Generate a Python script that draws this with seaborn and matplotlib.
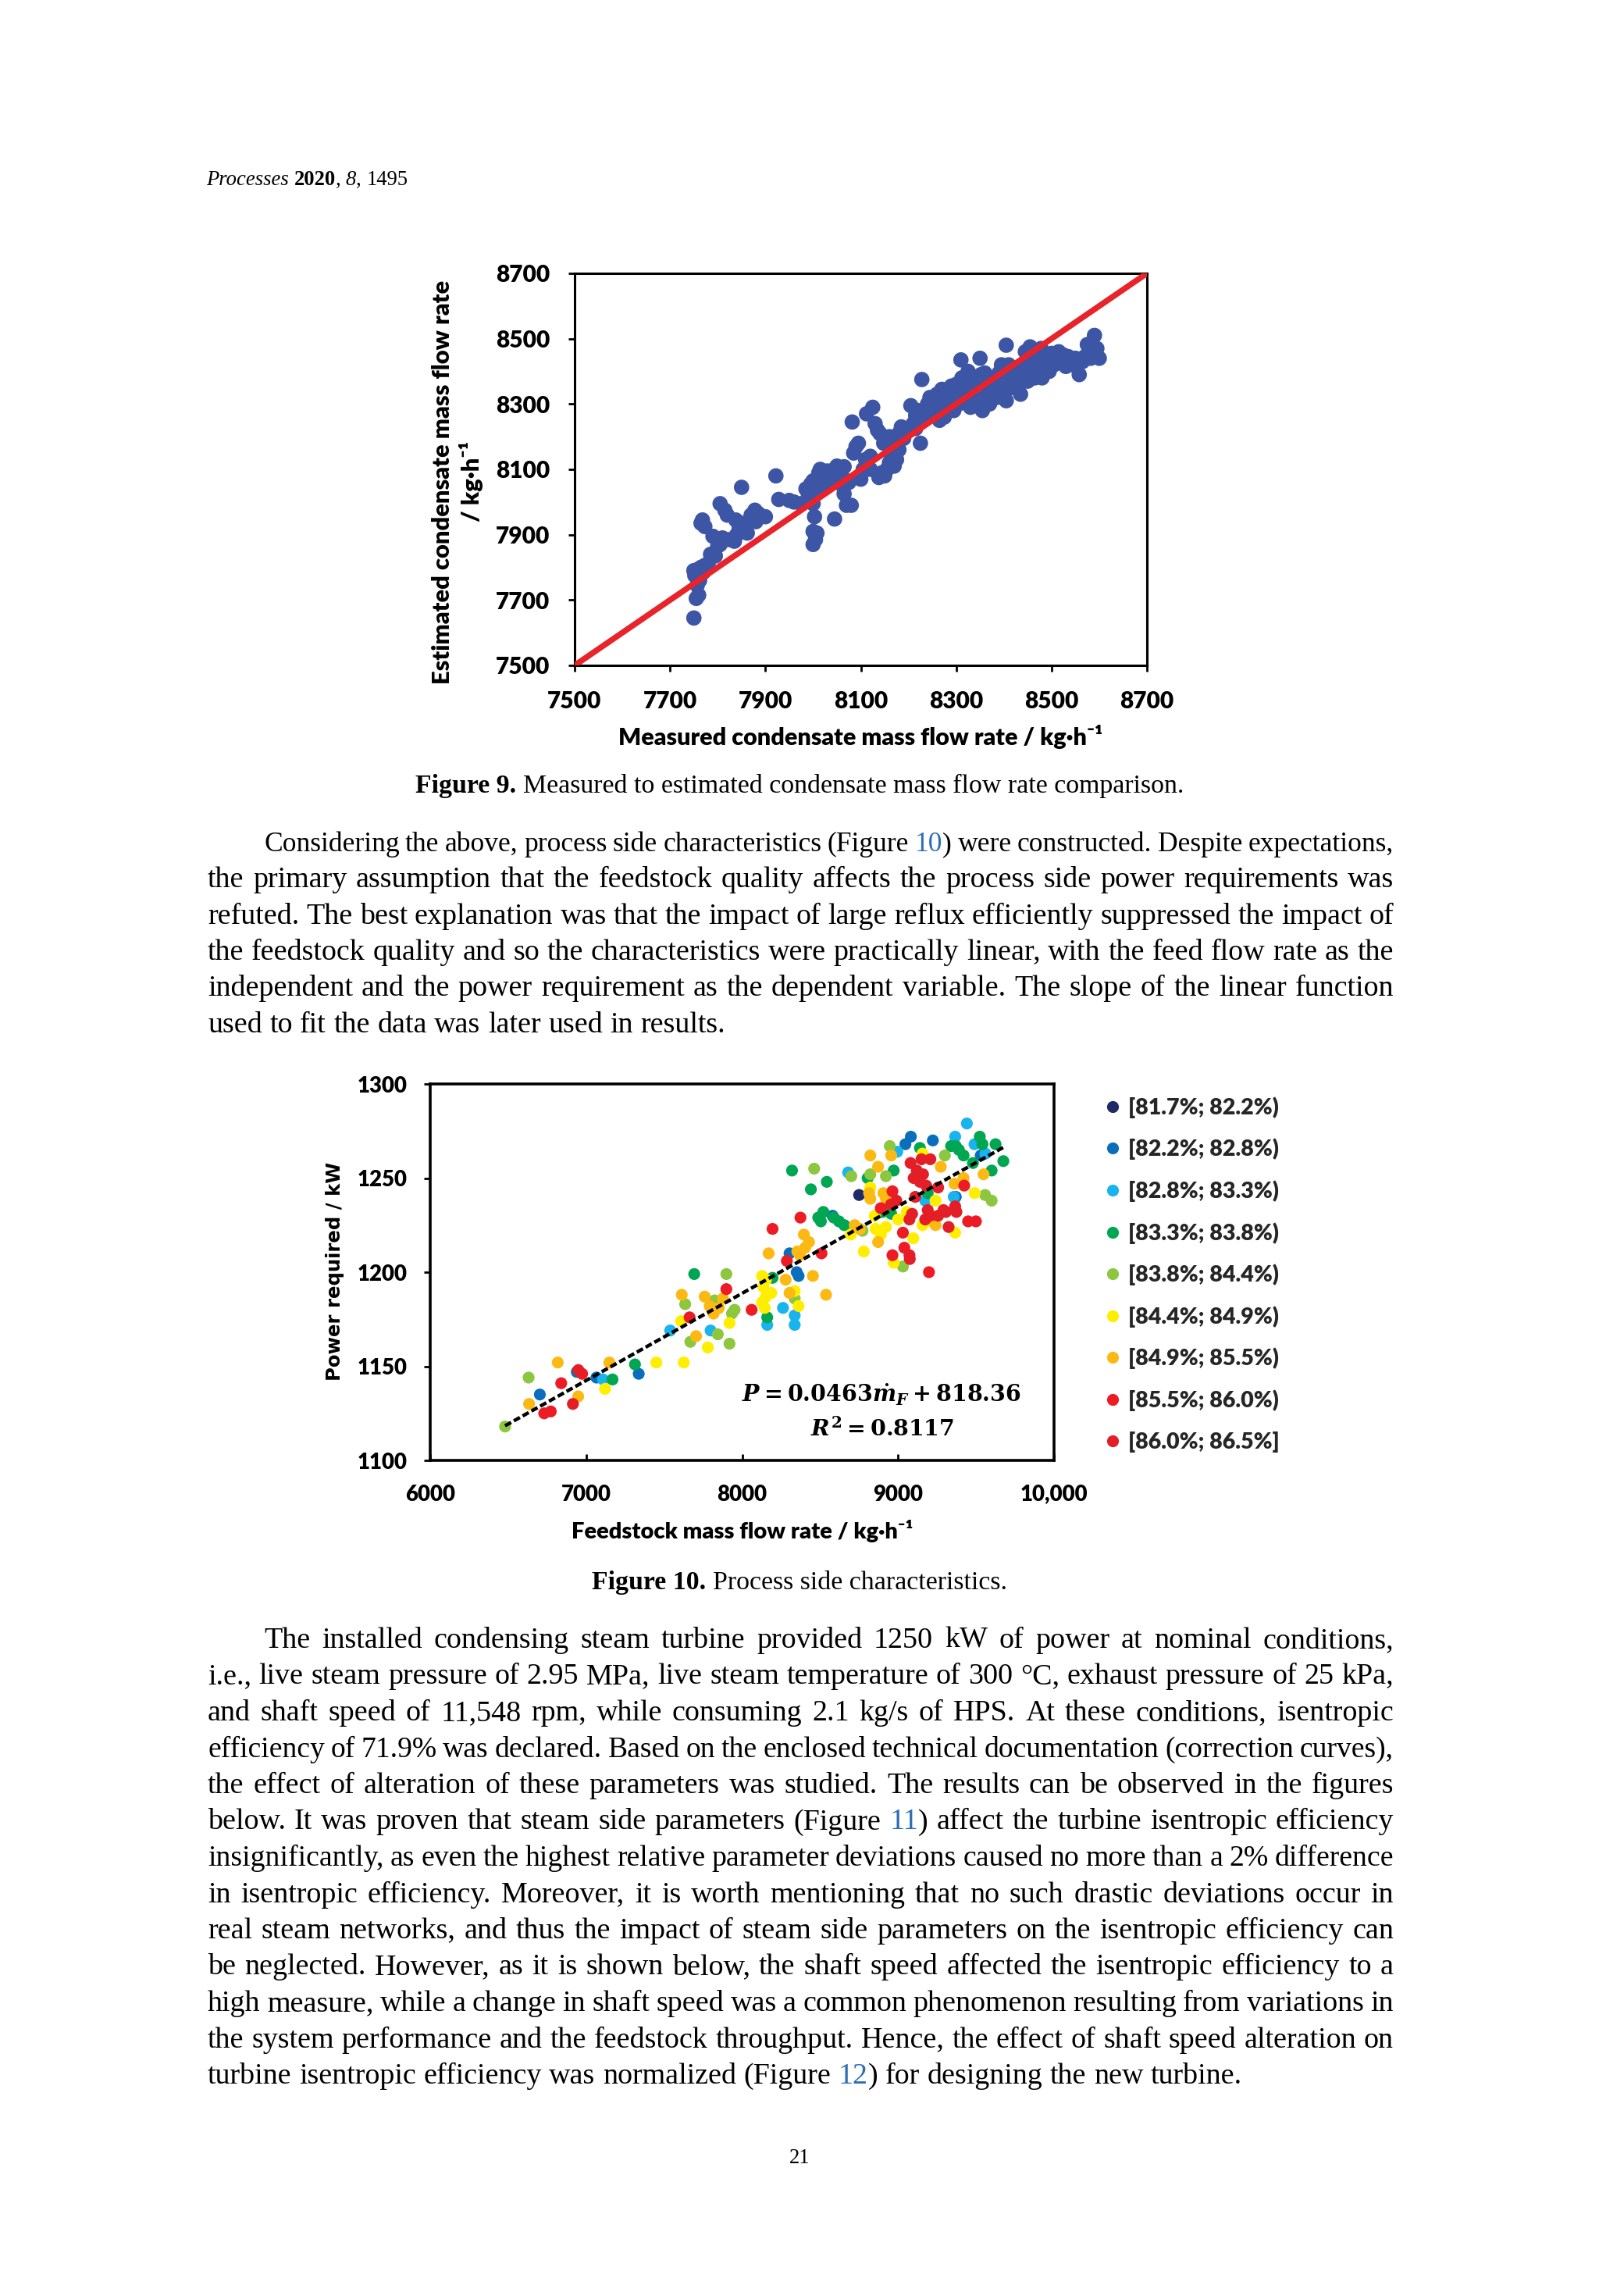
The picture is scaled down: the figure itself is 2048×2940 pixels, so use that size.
import re
import numpy as np
import pandas as pd
import matplotlib
matplotlib.use("Agg")
import matplotlib.pyplot as plt
import seaborn as sns

# ------------------------------------------------------------------ data
# Figure 9: measured vs estimated condensate mass flow rate (kg/h)
fig9_measured = [
    7750, 7755, 7760, 7757, 7752, 7750, 7760, 7765, 7772, 7780,
    7770, 7762, 7765, 7768, 7773, 7790, 7800, 7795, 7785, 7805,
    7810, 7805, 7815, 7820, 7825, 7835, 7840, 7845, 7838, 7852,
    7850, 7860, 7862, 7870, 7878, 7885, 7880, 7900, 7922, 7928,
    7950, 7960, 7975, 7985, 7990, 7995, 8000, 8002, 8000, 8003,
    8000, 8005, 8000, 8008, 8010, 8012, 8015, 8020, 8025, 8030,
    8035, 8040, 8045, 8050, 8055, 8060, 8062, 8065, 8070, 8080,
    8045, 8065, 8075, 8085, 8090, 8095, 8082, 8100, 8105, 8110,
    8112, 8120, 8125, 8130, 8135, 8138, 8140, 8145, 8150, 8155,
    8160, 8165, 8170, 8175, 8148, 8160, 8170, 8180, 8185, 8190,
    8200, 8205, 8210, 8215, 8220, 8225, 8228, 8230, 8240, 8245,
    8250, 8255, 8260, 8265, 8270, 8275, 8280, 8285, 8290, 8295,
    8300, 8305, 8310, 8312, 8315, 8320, 8325, 8330, 8335, 8340,
    8345, 8350, 8352, 8355, 8360, 8365, 8370, 8375, 8380, 8385,
    8390, 8395, 8400, 8405, 8405, 8410, 8412, 8415, 8420, 8425,
    8430, 8435, 8440, 8445, 8448, 8450, 8455, 8460, 8462, 8465,
    8470, 8475, 8478, 8480, 8485, 8490, 8495, 8500, 8505, 8510,
    8515, 8520, 8525, 8530, 8535, 8540, 8545, 8550, 8558, 8565,
    8570, 8575, 8582, 8590, 8595, 8600, 8265, 8290, 8330, 8360,
    8395, 8430, 8470, 8500, 8180, 8120, 8215, 8240, 8020, 8050]
fig9_estimated = [
    7645, 7705, 7715, 7745, 7775, 7790, 7795, 7800, 7805, 7812,
    7785, 7760, 7935, 7945, 7925, 7895, 7865, 7835, 7840, 7870,
    7890, 7995, 7975, 7960, 7885, 7880, 7900, 7920, 7945, 7935,
    8045, 7930, 7905, 7960, 7975, 7965, 7940, 7955, 8080, 8008,
    8005, 8000, 7995, 8040, 8025, 8055, 8065, 8030, 7995, 7955,
    7910, 7885, 7870, 7905, 8075, 8090, 8100, 8060, 8080, 8095,
    8070, 8085, 8100, 8065, 8090, 8080, 8050, 8025, 7990, 7990,
    7948, 8108, 8060, 8150, 8170, 8180, 8245, 8070, 8100, 8130,
    8270, 8140, 8290, 8240, 8220, 8075, 8210, 8090, 8080, 8100,
    8120, 8140, 8110, 8130, 8180, 8200, 8175, 8210, 8230, 8195,
    8220, 8295, 8240, 8265, 8280, 8180, 8375, 8250, 8300, 8320,
    8275, 8310, 8330, 8290, 8345, 8260, 8300, 8330, 8355, 8280,
    8360, 8300, 8435, 8380, 8340, 8310, 8400, 8370, 8350, 8320,
    8300, 8440, 8390, 8280, 8360, 8330, 8300, 8345, 8370, 8320,
    8395, 8350, 8335, 8480, 8310, 8420, 8380, 8350, 8400, 8365,
    8410, 8330, 8390, 8460, 8420, 8370, 8475, 8400, 8440, 8380,
    8455, 8415, 8470, 8380, 8430, 8445, 8400, 8455, 8420, 8440,
    8460, 8430, 8450, 8415, 8445, 8420, 8435, 8440, 8390, 8430,
    8445, 8482, 8440, 8510, 8470, 8440, 8250, 8320, 8290, 8395,
    8420, 8355, 8420, 8420, 8160, 8100, 8225, 8270, 8045, 8110]
fig9_ticks = [7500, 7700, 7900, 8100, 8300, 8500, 8700]

# Figure 10: feedstock mass flow (kg/h) vs power required (kW), by efficiency class
eff_classes = ['[81.7%; 82.2%)', '[82.2%; 82.8%)', '[82.8%; 83.3%)',
               '[83.3%; 83.8%)', '[83.8%; 84.4%)', '[84.4%; 84.9%)',
               '[84.9%; 85.5%)', '[85.5%; 86.0%)', '[86.0%; 86.5%]']
eff_colors = ['#1F2A66', '#0A6EBD', '#19B3EE', '#00A651', '#8DC63F',
              '#FFEE00', '#FDB913', '#ED1C24', '#E41E26']

c0_feed = [8750]
c0_power = [1241]
c1_feed = [6703, 6940, 7066, 7337, 8304, 8362, 8350, 8580, 9047, 9082, 9223, 9530, 9370]
c1_power = [1135, 1147, 1144, 1146, 1210, 1198, 1200, 1230, 1268, 1272, 1270, 1262, 1240]
c2_feed = [7108, 7539, 7798, 8161, 8337, 8337, 8262, 8680, 8995, 9366, 9441, 9357, 9174, 9490, 9560]
c2_power = [1143, 1169, 1169, 1172, 1177, 1172, 1181, 1253, 1264, 1272, 1279, 1240, 1238, 1268, 1263]
c3_feed = [7169, 7313, 7693, 8161, 8195, 8320, 8441, 8543, 8488, 8521, 8505, 8588, 8621, 8655, 8805,
           8972, 8956, 9140, 9190, 9340, 9370, 9390, 9524, 9541, 9625, 9675, 9600, 8900, 9420, 9480]
c3_power = [1143, 1151, 1199, 1176, 1197, 1254, 1244, 1248, 1229, 1232, 1227, 1229, 1227, 1225, 1250,
            1254, 1231, 1266, 1242, 1267, 1267, 1265, 1272, 1268, 1268, 1259, 1254, 1232, 1262, 1258]
c4_feed = [6480, 6631, 7635, 7668, 7824, 7844, 7899, 7919, 7935, 7952, 8337, 8462, 8772, 8822,
           8922, 8947, 9031, 9558, 9600, 8700, 9300]
c4_power = [1118, 1144, 1183, 1163, 1185, 1167, 1199, 1162, 1178, 1180, 1186, 1255, 1222, 1252,
            1251, 1267, 1203, 1241, 1238, 1251, 1262]
c5_feed = [7121, 7450, 7626, 7609, 7780, 7919, 8128, 8153, 8137, 8187, 8153, 8128, 8145, 8337, 8362,
           8697, 8780, 8822, 8856, 8922, 8889, 8972, 9056, 9098, 9157, 9157, 9190, 9366, 9491, 8850,
           9000, 9240]
c5_power = [1138, 1152, 1152, 1174, 1160, 1173, 1198, 1196, 1192, 1189, 1187, 1184, 1181, 1190, 1182,
            1220, 1211, 1245, 1223, 1224, 1220, 1205, 1232, 1218, 1263, 1225, 1227, 1221, 1242, 1230,
            1228, 1238]
c6_feed = [6634, 6818, 6949, 7149, 7613, 7705, 7760, 7792, 7817, 7851, 7877, 8170, 8279, 8304, 8396,
           8429, 8404, 8354, 8371, 8454, 8538, 8722, 8755, 8814, 8822, 8822, 8872, 8956, 8906, 8922,
           9240, 9274, 9548, 8872, 9362, 9420]
c6_power = [1130, 1152, 1134, 1152, 1188, 1166, 1187, 1182, 1178, 1181, 1186, 1210, 1196, 1189, 1220,
            1216, 1213, 1211, 1209, 1198, 1188, 1225, 1223, 1242, 1239, 1262, 1256, 1262, 1242, 1239,
            1225, 1256, 1252, 1216, 1247, 1250]
c7_feed = [6731, 6773, 6840, 6974, 7663, 7899, 8061, 8195, 8287, 8374, 8509, 8889, 8964, 8964,
           9040, 9073, 9031, 9198, 9424, 9449, 9499]
c7_power = [1125, 1126, 1141, 1146, 1176, 1191, 1180, 1223, 1206, 1229, 1210, 1234, 1243, 1209,
            1213, 1209, 1221, 1200, 1246, 1227, 1227]
c8_feed = [6915, 6950, 9080, 9100, 9120, 9140, 9160, 9180, 9110, 9150, 9207, 8989, 8955, 9090,
           9073, 9190, 9207, 9174, 9257, 9291, 9307, 9366, 9374, 9324, 9257, 9075]
c8_power = [1130, 1148, 1258, 1250, 1254, 1248, 1252, 1246, 1240, 1260, 1260, 1238, 1236, 1231,
            1228, 1233, 1230, 1228, 1230, 1233, 1232, 1235, 1232, 1224, 1245, 1207]

fit_slope = 0.0463
fit_intercept = 818.36
fig10_xticks = [6000, 7000, 8000, 9000, 10000]
fig10_xticklabels = ['6000', '7000', '8000', '9000', '10,000']
fig10_yticks = [1100, 1150, 1200, 1250, 1300]

# ------------------------------------------------------------------ page text
header_runs = [('Processes', 'italic'), (' ', None), ('2020', 'bold'), (',', 'normal'),
               (' ', None), ('8', 'italic'), (',', 'normal'), (' ', None), ('1495', 'normal')]
caption9 = ('Figure 9.', 'Measured to estimated condensate mass flow rate comparison.')
caption10 = ('Figure 10.', 'Process side characteristics.')
para1 = [
    "Considering the above, process side characteristics (Figure {10}) were constructed. Despite expectations,",
    "the primary assumption that the feedstock quality affects the process side power requirements was",
    "refuted. The best explanation was that the impact of large reflux efficiently suppressed the impact of",
    "the feedstock quality and so the characteristics were practically linear, with the feed flow rate as the",
    "independent and the power requirement as the dependent variable. The slope of the linear function",
    "used to fit the data was later used in results.",
]
para2 = [
    "The installed condensing steam turbine provided 1250 kW of power at nominal conditions,",
    "i.e., live steam pressure of 2.95 MPa, live steam temperature of 300 \u00b0C, exhaust pressure of 25 kPa,",
    "and shaft speed of 11,548 rpm, while consuming 2.1 kg/s of HPS. At these conditions, isentropic",
    "efficiency of 71.9% was declared. Based on the enclosed technical documentation (correction curves),",
    "the effect of alteration of these parameters was studied. The results can be observed in the figures",
    "below. It was proven that steam side parameters (Figure {11}) affect the turbine isentropic efficiency",
    "insignificantly, as even the highest relative parameter deviations caused no more than a 2% difference",
    "in isentropic efficiency. Moreover, it is worth mentioning that no such drastic deviations occur in",
    "real steam networks, and thus the impact of steam side parameters on the isentropic efficiency can",
    "be neglected. However, as it is shown below, the shaft speed affected the isentropic efficiency to a",
    "high measure, while a change in shaft speed was a common phenomenon resulting from variations in",
    "the system performance and the feedstock throughput. Hence, the effect of shaft speed alteration on",
    "turbine isentropic efficiency was normalized (Figure {12}) for designing the new turbine.",
]
page_number = '21'

# ------------------------------------------------------------------ setup
sns.set_theme(style="white")
plt.rcParams['font.family'] = ['Lato', 'DejaVu Sans']
plt.rcParams['mathtext.fontset'] = 'custom'
plt.rcParams['mathtext.rm'] = 'DejaVu Serif:bold'
plt.rcParams['mathtext.it'] = 'DejaVu Serif:italic:bold'
plt.rcParams['mathtext.bf'] = 'DejaVu Serif:bold'

W, H, DPI = 2048, 2940, 200
fig = plt.figure(figsize=(W / DPI, H / DPI), dpi=DPI)
fig.patch.set_facecolor('white')
renderer = fig.canvas.get_renderer()


def fx(p):
    return p / W


def fy(p):
    return 1 - p / H


def text_box(s, **kw):
    t = fig.text(0, 0, s, **kw)
    bb = t.get_window_extent(renderer)
    t.remove()
    return bb.width, bb.height


def fit(s, target, **kw):
    w, _ = text_box(s, fontsize=10, **kw)
    return 10.0 * target / w


CHART = dict(family=['Lato', 'DejaVu Sans'], weight='heavy')
SERIF = 'Liberation Serif'
LINK = '#2F6DB5'


def style_kw(st):
    if st == 'italic':
        return dict(family=SERIF, style='italic')
    if st == 'bold':
        return dict(family=SERIF, weight='bold')
    return dict(family=SERIF)


def space_w(size):
    a, _ = text_box('a a', fontsize=size, family=SERIF)
    b, _ = text_box('aa', fontsize=size, family=SERIF)
    return a - b


def runs_width(runs, size):
    ws = []
    for t, st in runs:
        if t == ' ':
            ws.append(space_w(size))
        else:
            ws.append(text_box(t, fontsize=size, **style_kw(st))[0])
    return ws


def draw_runs(runs, x, y, size, align='left'):
    ws = runs_width(runs, size)
    if align == 'center':
        x = x - sum(ws) / 2
    for (t, st), w in zip(runs, ws):
        if t != ' ':
            fig.text(fx(x), fy(y), t, fontsize=size, ha='left', va='baseline', color='black',
                     **style_kw(st))
        x += w


def word_runs(word):
    out = []
    for p in re.split(r'(\{[^}]*\})', word):
        if not p:
            continue
        if p.startswith('{'):
            out.append((p[1:-1], LINK))
        else:
            out.append((p, 'black'))
    return out


def draw_line(line, x0, x1, y, size, justify=True):
    words = [word_runs(w) for w in line.split(' ')]
    n = len(words)

    def measure(sz):
        ws = [[text_box(t, fontsize=sz, family=SERIF)[0] for t, c in r] for r in words]
        return ws, sum(sum(w) for w in ws)

    widths, total = measure(size)
    sp = space_w(size)
    natural = total + (n - 1) * 0.85 * sp
    if natural > (x1 - x0):
        size = size * (x1 - x0) / natural
        widths, total = measure(size)
        sp = space_w(size)
    gap = (x1 - x0 - total) / (n - 1) if (justify and n > 1) else sp
    x = x0
    for r, ws in zip(words, widths):
        for (t, c), w in zip(r, ws):
            fig.text(fx(x), fy(y), t, fontsize=size, color=c, ha='left', va='baseline', family=SERIF)
            x += w
        x += gap


# ------------------------------------------------------------------ page text drawing
head_size = 10.0 * 258 / sum(runs_width(header_runs, 10.0))
draw_runs(header_runs, 264, 237, head_size)

LEFT, RIGHT, INDENT = 266, 1785, 338
BODY_SIZE = 13.7
for i, line in enumerate(para1):
    draw_line(line, INDENT if i == 0 else LEFT, RIGHT, 1090 + 46.3 * i, BODY_SIZE,
              justify=(i < len(para1) - 1))
for i, line in enumerate(para2):
    draw_line(line, INDENT if i == 0 else LEFT, RIGHT, 2110 + 46.5 * i, BODY_SIZE,
              justify=(i < len(para2) - 1))

cap_runs9 = [(caption9[0], 'bold'), (' ', None), (caption9[1], 'normal')]
cap_size = 10.0 * 985 / sum(runs_width(cap_runs9, 10.0))
draw_runs(cap_runs9, 1024, 1015, cap_size, align='center')
cap_runs10 = [(caption10[0], 'bold'), (' ', None), (caption10[1], 'normal')]
draw_runs(cap_runs10, 1024, 2035, cap_size, align='center')
draw_runs([(page_number, 'normal')], 1024, 2770, head_size, align='center')

# ------------------------------------------------------------------ Figure 9
ax9 = fig.add_axes([fx(736), 1 - 852 / H, 733 / W, 502 / H])
sns.scatterplot(x=fig9_measured, y=fig9_estimated, ax=ax9, color='#3D55A5', s=50,
                edgecolor='none', linewidth=0, zorder=2)
lim9 = (fig9_ticks[0], fig9_ticks[-1])
ax9.plot(lim9, lim9, color='#E8232A', lw=2.7, solid_capstyle='butt', zorder=3)
ax9.set_xlim(lim9)
ax9.set_ylim(lim9)
ax9.set_xticks(fig9_ticks)
ax9.set_yticks(fig9_ticks)
t9 = fit('8700', 69, **CHART)
ax9.tick_params(axis='both', which='major', direction='out', length=3, width=1.0, pad=8.5,
                colors='black', labelsize=t9, bottom=True, left=True)
for lab in ax9.get_xticklabels() + ax9.get_yticklabels():
    lab.set_fontweight('heavy')
for sp in ax9.spines.values():
    sp.set_color('black')
    sp.set_linewidth(1.1)
    sp.set_visible(True)

xl9 = 'Measured condensate mass flow rate / kg\u00b7h\u207b\u00b9'
ax9.set_xlabel(xl9, fontsize=fit(xl9, 622, **CHART), fontweight='heavy', color='black')
ax9.xaxis.set_label_coords(0.5, (852 - 944) / 502)
ax9.xaxis.label.set_va('center')
yl9a = 'Estimated condensate mass flow rate'
ys9 = fit(yl9a, 518, **CHART)
_, lp_h = text_box('lp', fontsize=ys9, **CHART)
ax9.set_ylabel(yl9a + '\n/ kg\u00b7h\u207b\u00b9', fontsize=ys9, fontweight='heavy', color='black',
               linespacing=36 / lp_h)
ax9.yaxis.set_label_coords((586 - 736) / 733, (852 - 617) / 502)
ax9.yaxis.label.set_va('center')

# ------------------------------------------------------------------ Figure 10
feeds = [c0_feed, c1_feed, c2_feed, c3_feed, c4_feed, c5_feed, c6_feed, c7_feed, c8_feed]
powers = [c0_power, c1_power, c2_power, c3_power, c4_power, c5_power, c6_power, c7_power, c8_power]
frames = []
for cls, f, p in zip(eff_classes, feeds, powers):
    assert len(f) == len(p)
    frames.append(pd.DataFrame({'feed': f, 'power': p, 'eff': cls}))
df10 = pd.concat(frames, ignore_index=True)

ax10 = fig.add_axes([fx(551), 1 - 1870 / H, 799 / W, 482 / H])
sns.scatterplot(data=df10, x='feed', y='power', hue='eff', hue_order=eff_classes,
                palette=eff_colors, s=30, edgecolor='none', linewidth=0, ax=ax10, zorder=2)
xs = np.array([df10['feed'].min(), df10['feed'].max()], dtype=float)
ax10.plot(xs, fit_slope * xs + fit_intercept, color='black', lw=1.6,
          linestyle=(0, (2.0, 0.9)), zorder=3)
ax10.set_xlim(fig10_xticks[0], fig10_xticks[-1])
ax10.set_ylim(fig10_yticks[0], fig10_yticks[-1])
ax10.set_xticks(fig10_xticks)
ax10.set_xticklabels(fig10_xticklabels)
ax10.set_yticks(fig10_yticks)
t10 = fit('1300', 64, **CHART)
ax10.tick_params(axis='y', direction='out', length=3, width=1.0, pad=7.6, colors='black',
                 labelsize=t10, left=True)
ax10.tick_params(axis='x', direction='in', length=3, width=1.0, pad=11, colors='black',
                 labelsize=t10, bottom=True)
for lab in ax10.get_xticklabels() + ax10.get_yticklabels():
    lab.set_fontweight('heavy')
for sp in ax10.spines.values():
    sp.set_color('black')
    sp.set_linewidth(1.3)
    sp.set_visible(True)

xl10 = 'Feedstock mass flow rate / kg\u00b7h\u207b\u00b9'
ax10.set_xlabel(xl10, fontsize=fit(xl10, 438, **CHART), fontweight='heavy', color='black')
ax10.xaxis.set_label_coords((951 - 551) / 799, (1870 - 1960) / 482)
ax10.xaxis.label.set_va('center')
yl10 = 'Power required / kW'
YL10 = dict(family=['DejaVu Sans'], weight='bold')
ax10.set_ylabel(yl10, fontsize=fit(yl10, 281, **YL10), fontweight='bold',
                fontfamily='DejaVu Sans', color='black')
ax10.yaxis.set_label_coords((429 - 551) / 799, (1870 - 1628) / 482)
ax10.yaxis.label.set_va('center')

# equation
eq1 = r'$P=0.0463\dot{m}_F+818.36$'
eq2 = r'$R^2=0.8117$'
e1s = fit(eq1, 358)
e2s = fit(eq2, 184)
fig.text(fx(1129), fy(1786), eq1, fontsize=e1s, ha='center', va='center', color='black')
fig.text(fx(1130), fy(1829), eq2, fontsize=e2s, ha='center', va='center', color='black')

# legend
leg_size = fit(eff_classes[0], 193, **CHART)
_, leg_h = text_box(eff_classes[0], fontsize=leg_size, **CHART)
fs_px = leg_size * DPI / 72
sns.move_legend(ax10, 'upper left',
                bbox_to_anchor=(fx(1418), fy(1418 - leg_h / 2)),
                bbox_transform=fig.transFigure, frameon=False, title='',
                prop=dict(family=['Lato', 'DejaVu Sans'], weight='heavy', size=leg_size),
                labelspacing=(53.6 - leg_h) / fs_px, handlelength=0.5, handletextpad=0.45,
                borderpad=0, borderaxespad=0)

fig.savefig('out.png', dpi=DPI, facecolor='white')
